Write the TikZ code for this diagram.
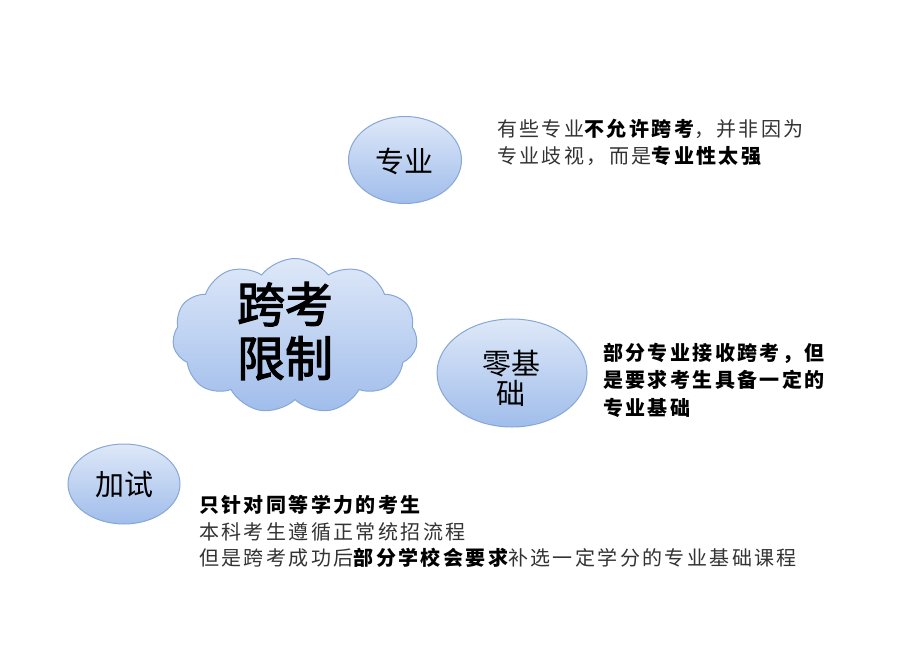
\documentclass[tikz,border=0pt]{standalone}
\usepackage{fontspec}
\usetikzlibrary{shapes.symbols,shapes.geometric}
\newfontfamily\cjk{Noto Sans CJK SC}
\newfontfamily\cjkm{Noto Sans CJK SC}[FakeBold=2.5]
\newfontfamily\cjksp{Noto Sans CJK SC}[LetterSpace=12]
\definecolor{bdr}{HTML}{86A7D8}
\definecolor{ftop}{HTML}{DEE8F8}
\definecolor{fbot}{HTML}{A0BDEB}
\definecolor{txt}{HTML}{333333}
\newcommand\bk[1]{\textcolor{black}{\bfseries #1}}
\begin{document}
\begin{tikzpicture}[x=1pt,y=-1pt,
 bubble/.style={ellipse, draw=bdr, line width=1pt, top color=ftop, bottom color=fbot, inner sep=0pt},
 btext/.style={font=\cjk\fontsize{29}{30}\selectfont, align=center, inner sep=0pt},
 note/.style={anchor=base west, inner sep=0pt, font=\cjksp\fontsize{20}{27}\selectfont, text=txt}]
\useasboundingbox[fill=white] (0,0) rectangle (900,668);
\node[cloud, cloud puffs=11, cloud puff arc=105, aspect=1.55, draw=bdr, line width=1pt, top color=ftop, bottom color=fbot, minimum width=245, minimum height=155, inner sep=0pt] (cl) at (295,336) {};
\node[font=\cjkm\fontsize{48}{54}\selectfont, align=center, inner sep=0pt] (kk) at (285,331) {跨考\\限制};
\node[bubble, minimum width=113, minimum height=87] (zy) at (405,160) {};
\node[btext] (zyt) at (404,161) {专业};
\node[bubble, minimum width=150, minimum height=108] (ljc) at (512,373) {};
\node[btext] (ljct) at (511,378) {零基\\础};
\node[bubble, minimum width=112, minimum height=80] (js) at (124,484) {};
\node[btext] (jst) at (124,485) {加试};
\node[note] (a1) at (497,137) {有些专业\bk{不允许跨考}，并非因为};
\node[note] (a2) at (497,164) {专业歧视，而是\bk{专业性太强}};
\node[note] (b1) at (603,361) {\bk{部分专业接收跨考，但}};
\node[note] (b2) at (603,388) {\bk{是要求考生具备一定的}};
\node[note] (b3) at (603,415) {\bk{专业基础}};
\node[note] (c1) at (199,512) {\bk{只针对同等学力的考生}};
\node[note] (c2) at (199,539) {本科考生遵循正常统招流程};
\node[note] (c3) at (199,565) {但是跨考成功后\bk{部分学校会要求}补选一定学分的专业基础课程};
\end{tikzpicture}
\end{document}
